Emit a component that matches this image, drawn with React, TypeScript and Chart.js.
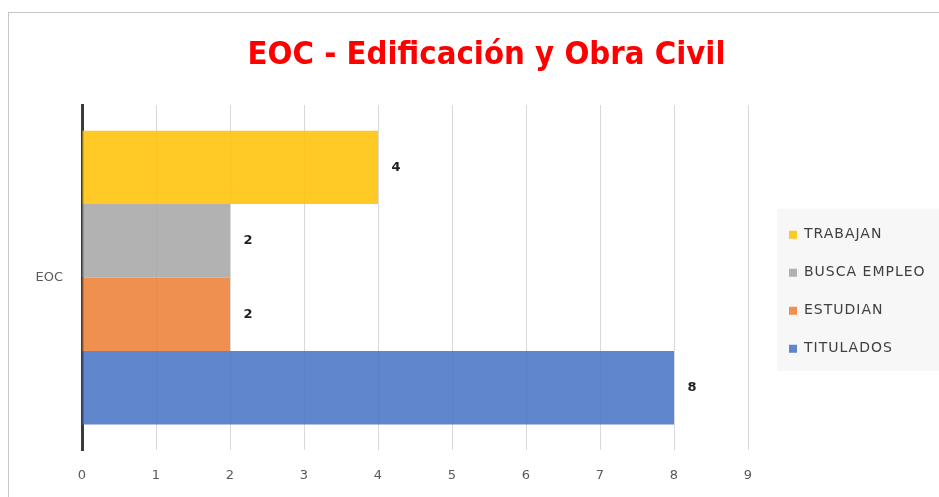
import React, { useEffect, useRef } from 'react';
import { Chart, registerables } from 'chart.js';

Chart.register(...registerables);

const categories = ['EOC'];
const seriesNames = ['TRABAJAN', 'BUSCA EMPLEO', 'ESTUDIAN', 'TITULADOS'];
const trabajan = [4];
const buscaEmpleo = [2];
const estudian = [2];
const titulados = [8];
const xTickValues = [0, 1, 2, 3, 4, 5, 6, 7, 8, 9];
const seriesColors = [
  'rgba(255,192,0,0.85)',
  'rgba(165,165,165,0.85)',
  'rgba(237,125,49,0.85)',
  'rgba(68,114,196,0.85)',
];
const titleText = 'EOC - Edificación y Obra Civil';

const W = 939;
const H = 497;

const legendBgPlugin = {
  id: 'legendBg',
  beforeLayout(chart: any) {
    const lg = chart.legend;
    if (lg && !lg.__patched) {
      const origFit = lg.fit;
      lg.fit = function () {
        origFit.call(this);
        this.width = 174;
      };
      const origDraw = lg.draw;
      lg.draw = function () {
        const ctx = this.ctx;
        const prev = ctx.letterSpacing;
        ctx.letterSpacing = '1px';
        origDraw.call(this);
        ctx.letterSpacing = prev || '0px';
      };
      lg.__patched = true;
    }
  },
  beforeDraw(chart: any) {
    const lg = chart.legend;
    if (!lg || !lg.legendHitBoxes || !lg.legendHitBoxes.length) return;
    const boxes = lg.legendHitBoxes;
    let top = Infinity;
    let bottom = -Infinity;
    let left = Infinity;
    boxes.forEach((b: any) => {
      top = Math.min(top, b.top);
      bottom = Math.max(bottom, b.top + b.height);
      left = Math.min(left, b.left);
    });
    const ctx = chart.ctx;
    ctx.save();
    ctx.fillStyle = '#f7f7f7';
    ctx.fillRect(left - 12, top - 19, chart.width - (left - 12), bottom - top + 34);
    ctx.restore();
  },
};

const valueLabelPlugin = {
  id: 'valueLabels',
  afterDatasetsDraw(chart: any) {
    const ctx = chart.ctx;
    ctx.save();
    ctx.fillStyle = '#1f1f1f';
    ctx.font = 'bold 13px "DejaVu Sans", sans-serif';
    ctx.textAlign = 'center';
    ctx.textBaseline = 'middle';
    chart.data.datasets.forEach((ds: any, i: number) => {
      const meta = chart.getDatasetMeta(i);
      meta.data.forEach((el: any, j: number) => {
        ctx.fillText(String(ds.data[j]), el.x + 18, el.y);
      });
    });
    ctx.restore();
  },
};

export default function App() {
  const ref = useRef<HTMLCanvasElement | null>(null);

  useEffect(() => {
    if (!ref.current) return;
    const seriesData = [trabajan, buscaEmpleo, estudian, titulados];
    const chart = new Chart(ref.current, {
      type: 'bar',
      data: {
        labels: categories,
        datasets: seriesNames.map((name, i) => ({
          label: name,
          data: seriesData[i],
          backgroundColor: seriesColors[i],
          borderWidth: 0,
          barPercentage: 1,
          categoryPercentage: 0.852,
        })),
      },
      options: {
        indexAxis: 'y',
        responsive: false,
        animation: false,
        layout: { padding: { left: 34, right: 0, top: 0, bottom: 0 } },
        scales: {
          x: {
            type: 'linear',
            min: 0,
            max: 9,
            afterBuildTicks: (s: any) => {
              s.ticks = xTickValues.map((v) => ({ value: v }));
            },
            ticks: {
              stepSize: 1,
              color: '#595959',
              font: { family: '"DejaVu Sans", sans-serif', size: 13 },
              padding: 18,
            },
            grid: { color: '#d9d9d9', lineWidth: 1, drawTicks: false },
            border: { display: false },
            afterFit: (s: any) => {
              s.height = 47;
            },
          },
          y: {
            type: 'category',
            grid: { display: false, drawTicks: false },
            border: { display: true, color: '#3a3a3a', width: 3 },
            ticks: {
              color: '#595959',
              font: { family: '"DejaVu Sans", sans-serif', size: 13 },
              padding: 19,
            },
            afterFit: (s: any) => {
              s.width = 48;
            },
          },
          spacer: {
            type: 'linear',
            position: 'right',
            display: true,
            grid: { display: false, drawTicks: false },
            ticks: { display: false },
            border: { display: false },
            afterFit: (s: any) => {
              s.width = 17;
            },
          },
        },
        plugins: {
          title: {
            display: true,
            text: titleText,
            color: '#ff0000',
            font: {
              family: '"Liberation Sans Narrow", "DejaVu Sans Condensed", sans-serif',
              size: 32.6,
              weight: 'bold',
            },
            padding: { top: 36, bottom: 30 },
          },
          legend: {
            display: true,
            position: 'right',
            fullSize: false,
            align: 'center',
            title: { display: true, text: ' ', padding: 7, font: { size: 12 } },
            labels: {
              boxWidth: 8,
              boxHeight: 8,
              padding: 24,
              color: '#404040',
              font: { family: '"DejaVu Sans", sans-serif', size: 14 },
            },
          },
          tooltip: { enabled: false },
        },
      },
      plugins: [legendBgPlugin, valueLabelPlugin],
    } as any);
    return () => chart.destroy();
  }, []);

  return (
    <div
      style={{
        position: 'fixed',
        left: 0,
        top: 0,
        width: W,
        height: H,
        background: '#ffffff',
        overflow: 'hidden',
      }}
    >
      <div
        style={{
          position: 'absolute',
          left: 8,
          top: 12,
          width: W + 40,
          height: H + 40,
          borderLeft: '1px solid #c6c6c6',
          borderTop: '1px solid #c6c6c6',
          boxSizing: 'border-box',
        }}
      />
      <canvas
        ref={ref}
        width={W}
        height={H}
        style={{ position: 'absolute', left: 0, top: 0, display: 'block' }}
      />
    </div>
  );
}
